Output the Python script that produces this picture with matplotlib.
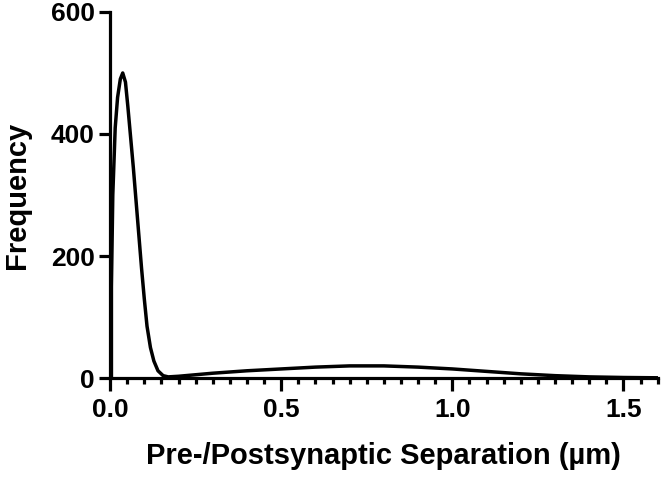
import matplotlib
matplotlib.use('Agg')
import matplotlib.pyplot as plt
from matplotlib.ticker import MultipleLocator

plt.rcParams['font.family'] = ['Liberation Sans', 'DejaVu Sans']
plt.rcParams['font.weight'] = 'bold'

# separation (um) and frequency
separation = [0.004, 0.004, 0.008, 0.015, 0.022, 0.030, 0.037, 0.045, 0.052,
              0.060, 0.068, 0.076, 0.084, 0.092, 0.100, 0.108, 0.118, 0.128,
              0.140, 0.155, 0.170, 0.20, 0.30, 0.40, 0.50, 0.60, 0.70, 0.80,
              0.90, 1.00, 1.10, 1.20, 1.30, 1.40, 1.50, 1.60]
frequency = [0, 150, 300, 410, 460, 490, 500, 485, 445,
             395, 345, 290, 235, 180, 130, 85, 50, 28,
             12, 4, 2, 3, 8, 12, 15, 18, 20, 20,
             18, 15, 11, 7, 4, 2, 1, 0.5]

xticks = [0.0, 0.5, 1.0, 1.5]
xticklabels = ['0.0', '0.5', '1.0', '1.5']
yticks = [0, 200, 400, 600]


def main():
    fig = plt.figure(figsize=(6.63, 4.78), dpi=100)
    ax = fig.add_axes([0.166, 0.209, 0.826, 0.766])

    ax.plot(separation, frequency, color='black', lw=2.5, solid_joinstyle='round')

    ax.set_xlim(0, 1.6)
    ax.set_ylim(0, 600)
    ax.set_xticks(xticks)
    ax.set_xticklabels(xticklabels)
    ax.xaxis.set_minor_locator(MultipleLocator(0.05))
    ax.set_yticks(yticks)

    for s in ['top', 'right']:
        ax.spines[s].set_visible(False)
    for s in ['left', 'bottom']:
        ax.spines[s].set_linewidth(2.3)

    ax.tick_params(axis='both', which='major', width=2.3, length=8,
                   labelsize=19, pad=3)
    ax.tick_params(axis='x', which='major', length=9.5, pad=5)
    ax.tick_params(axis='x', which='minor', width=2.3, length=4)
    for lab in ax.get_xticklabels() + ax.get_yticklabels():
        lab.set_fontweight('bold')

    ax.set_xlabel('Pre-/Postsynaptic Separation (µm)', fontsize=21,
                  fontweight='bold', labelpad=14)
    ax.set_ylabel('Frequency', fontsize=21, fontweight='bold', labelpad=14)

    fig.savefig('out.png', dpi=100)


if __name__ == '__main__':
    main()
